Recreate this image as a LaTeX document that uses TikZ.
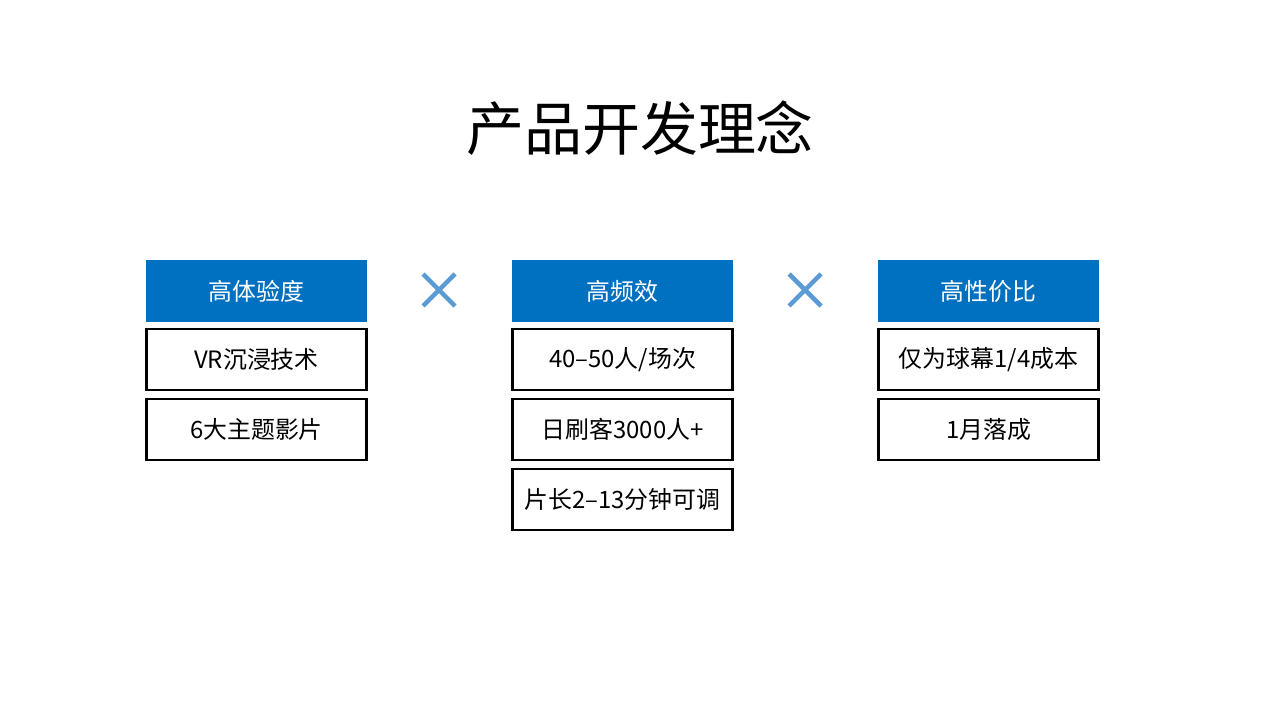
\documentclass[tikz,border=0pt]{standalone}
\usepackage{fontspec}
\setmainfont{Noto Sans CJK SC}
\usetikzlibrary{positioning, calc}
\definecolor{headblue}{RGB}{0,112,192}
\definecolor{crossblue}{RGB}{91,155,213}
\tikzset{
head box/.style = { rectangle, draw = none, fill = headblue, text = white, minimum width = 2.21cm, minimum height = 0.62cm, inner sep = 0pt, font = \fontsize{6.8pt}{8pt}\selectfont },
item box/.style = { rectangle, draw = black, line width = 0.6pt, fill = white, minimum width = 2.20cm, minimum height = 0.61cm, inner sep = 0pt, font = \fontsize{6.8pt}{8pt}\selectfont },
cross/.style = { draw = crossblue, line width = 1.3pt },
}
\begin{document}
\begin{tikzpicture}
    \useasboundingbox (0,0) rectangle (12.8,-7.2);
    \node (title) at (6.4,-1.28) {\fontsize{16.5pt}{19pt}\selectfont 产品开发理念};
    \begin{scope}[node distance = 0.068cm]
      % column 1
      \node[head box] (h1) at (2.565,-2.91) {高体验度};
      \node[item box, below=0.05cm of h1] (a1) {VR沉浸技术};
      \node[item box, below=of a1] (a2) {6大主题影片};
      % column 2
      \node[head box] (h2) at (6.225,-2.91) {高频效};
      \node[item box, below=0.05cm of h2] (b1) {40--50人/场次};
      \node[item box, below=of b1] (b2) {日刷客3000人+};
      \node[item box, below=of b2] (b3) {片长2--13分钟可调};
      % column 3
      \node[head box] (h3) at (9.885,-2.91) {高性价比};
      \node[item box, below=0.05cm of h3] (c1) {仅为球幕1/4成本};
      \node[item box, below=of c1] (c2) {1月落成};
    \end{scope}
    \coordinate (x1) at (4.39,-2.90);
    \coordinate (x2) at (8.05,-2.90);
    \foreach \c in {x1, x2} {
      \draw[cross] ($(\c)+(-0.16,0.16)$) -- ($(\c)+(0.16,-0.16)$);
      \draw[cross] ($(\c)+(-0.16,-0.16)$) -- ($(\c)+(0.16,0.16)$);
    }
\end{tikzpicture}
\end{document}
